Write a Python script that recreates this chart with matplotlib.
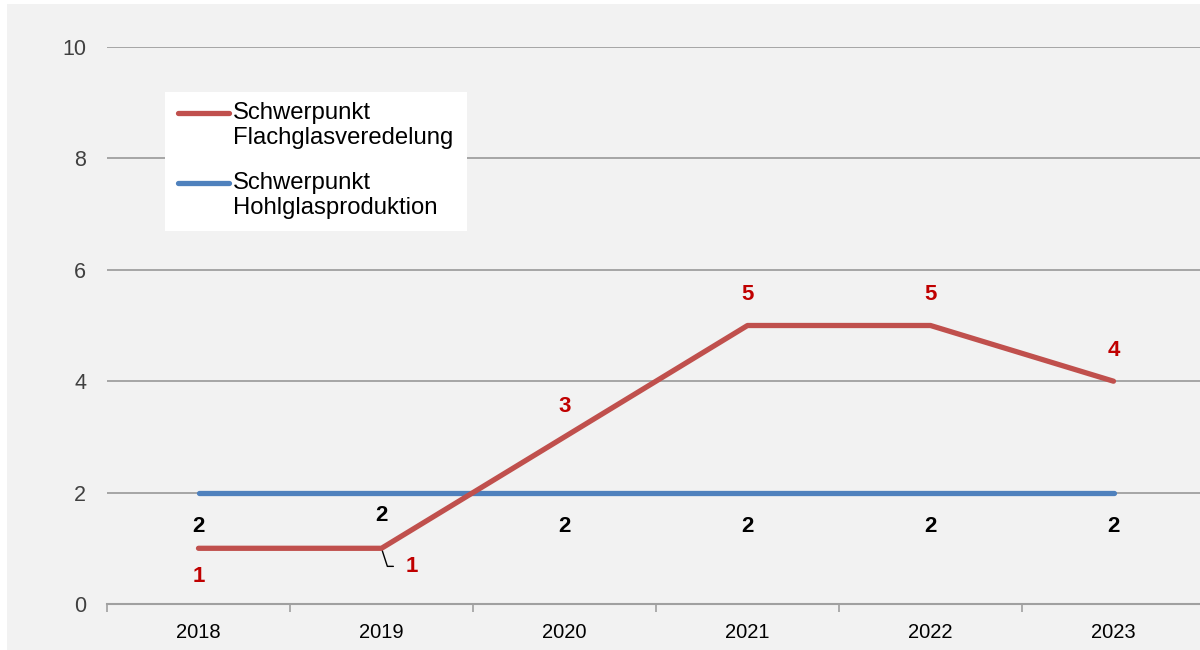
import matplotlib.pyplot as plt
from matplotlib.patches import Rectangle
from matplotlib.lines import Line2D

plt.rcParams['font.family'] = ['Liberation Sans', 'DejaVu Sans']

# data
years = ["2018", "2019", "2020", "2021", "2022", "2023"]
flachglas = [1, 1, 3, 5, 5, 4]
hohlglas = [2, 2, 2, 2, 2, 2]
series_names = ["Schwerpunkt\nFlachglasveredelung", "Schwerpunkt\nHohlglasproduktion"]

RED = "#c0504d"
BLUE = "#4f81bd"
LABEL_RED = "#c00000"
BG = "#f2f2f2"
GRID = "#a0a0a0"

fig = plt.figure(figsize=(12, 6.5), dpi=100, facecolor="white")
fig.patches.append(Rectangle((7 / 1200, 0), 1, 1 - 4 / 650, transform=fig.transFigure,
                             facecolor=BG, edgecolor="none", zorder=-10))

ax = fig.add_axes([107 / 1200, 46 / 650, 1098 / 1200, 557 / 650])
ax.set_facecolor("none")

x = list(range(len(years)))
ax.plot(x, hohlglas, color=BLUE, lw=3.8, solid_capstyle="round", zorder=3)
ax.plot(x, flachglas, color=RED, lw=3.8, solid_capstyle="round", zorder=4)

ax.set_xlim(-0.5, len(years) - 0.5)
ax.set_ylim(0, 10)
ax.set_yticks([0, 2, 4, 6, 8, 10])
ax.set_xticks(x)
ax.set_xticklabels(years)
ax.set_xticks([i - 0.5 for i in range(len(years) + 1)], minor=True)
ax.tick_params(axis="x", which="major", length=0, pad=14, labelsize=14.5, colors="black")
ax.tick_params(axis="x", which="minor", length=6, width=1.2, color=GRID, direction="out")
ax.tick_params(axis="y", length=0, pad=15, labelsize=15.5, labelcolor="#404040")

for s in ["top", "right", "left"]:
    ax.spines[s].set_visible(False)
ax.spines["bottom"].set_color(GRID)
ax.spines["bottom"].set_linewidth(1.5)
ax.yaxis.grid(True, color=GRID, lw=1.3)
ax.set_axisbelow(True)

# data labels: blue series (black text, below line)
for i, v in enumerate(hohlglas):
    dy = -24.5 if i != 1 else -16.5
    ax.annotate(str(v), (i, v), xytext=(0, dy), textcoords="offset points",
                ha="center", va="center", fontsize=16, fontweight="bold", color="black")

# data labels: red series
offsets = [(0, -20), None, (0, 22), (0, 22), (0, 22), (0, 22)]
for i, v in enumerate(flachglas):
    if offsets[i] is None:
        ax.annotate(str(v), (i, v), xytext=(22, -13), textcoords="offset points",
                    ha="center", va="center", fontsize=16, fontweight="bold", color=LABEL_RED,
                    arrowprops=dict(arrowstyle="-", color="black", lw=1,
                                    connectionstyle="angle,angleA=0,angleB=-72,rad=0",
                                    shrinkA=7, shrinkB=1))
    else:
        ax.annotate(str(v), (i, v), xytext=offsets[i], textcoords="offset points",
                    ha="center", va="center", fontsize=16, fontweight="bold", color=LABEL_RED)

# legend box (manual so the handle aligns with the first text line)
fig.patches.append(Rectangle((165 / 1200, 1 - 231 / 650), 302 / 1200, 139 / 650,
                             transform=fig.transFigure, facecolor="white", edgecolor="none", zorder=5))
for k, (name, col) in enumerate(zip(series_names, [RED, BLUE])):
    yy = 1 - (113 + 70 * k) / 650
    fig.add_artist(Line2D([178 / 1200, 229 / 1200], [yy, yy], color=col, lw=3.8,
                          solid_capstyle="round", zorder=6))
    fig.text(233 / 1200, yy + 11 / 650, name, ha="left", va="top", fontsize=17.2,
             linespacing=1.15, color="black", zorder=6)

fig.savefig("out.png", dpi=100, facecolor=fig.get_facecolor())
